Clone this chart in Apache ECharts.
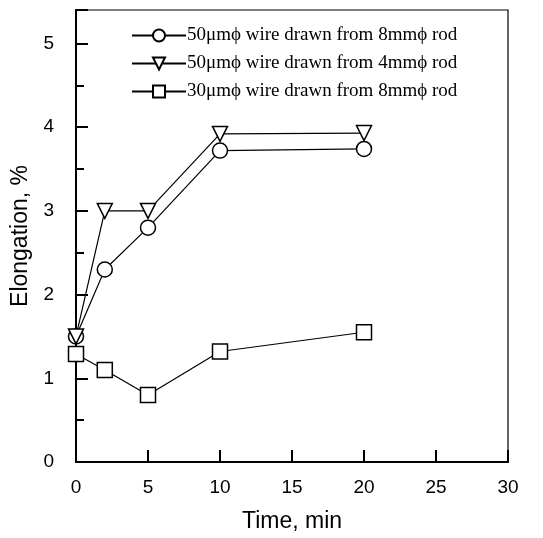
<!DOCTYPE html>
<html>
<head>
<meta charset="utf-8">
<script src="https://cdn.jsdelivr.net/npm/echarts@6/dist/echarts.min.js"></script>
<style>
  html, body { margin: 0; padding: 0; background: #fff; }
  #chart { width: 543px; height: 538px; }
</style>
</head>
<body>
<div id="chart"></div>
<script>
// time, min
var times = [0, 2, 5, 10, 20];
// elongation, %
var wire50from8 = [1.5, 2.3, 2.8, 3.72, 3.74];
var wire50from4 = [1.5, 3.0, 3.0, 3.92, 3.93];
var wire30from8 = [1.29, 1.1, 0.8, 1.32, 1.55];
var seriesNames = [
  "50\u03bcm\u03d5 wire drawn from 8mm\u03d5 rod",
  "50\u03bcm\u03d5 wire drawn from 4mm\u03d5 rod",
  "30\u03bcm\u03d5 wire drawn from 8mm\u03d5 rod"
];

function pairs(ys) {
  return times.map(function (t, i) { return [t, ys[i]]; });
}

function lineSeries(name, ys, symbol, rotate) {
  return {
    name: name,
    type: "line",
    data: pairs(ys),
    symbol: symbol,
    symbolSize: 15,
    symbolRotate: rotate,
    showAllSymbol: true,
    lineStyle: { color: "#000", width: 1.2 },
    itemStyle: { color: "#fff", borderColor: "#000", borderWidth: 1.5 },
    emphasis: { disabled: true },
    z: 3
  };
}

var chart = echarts.init(document.getElementById("chart"));
chart.setOption({
  animation: false,
  grid: {
    left: 76, right: 35, top: 10, bottom: 76,
    show: true, borderColor: "#000", borderWidth: 1.2
  },
  legend: {
    orient: "vertical",
    left: 126, top: 21,
    itemWidth: 54, itemHeight: 15, itemGap: 9,
    textStyle: { fontFamily: "Liberation Serif", fontSize: 19, color: "#000", padding: [0, 0, 0, -4] },
    data: seriesNames
  },
  xAxis: {
    type: "value",
    min: 0, max: 30, interval: 5,
    name: "Time, min",
    nameLocation: "middle",
    nameGap: 48,
    nameTextStyle: { fontFamily: "Liberation Sans", fontSize: 23, color: "#000" },
    axisLine: { lineStyle: { color: "#000", width: 2 } },
    axisTick: { inside: true, length: 12, lineStyle: { color: "#000", width: 2 } },
    axisLabel: { margin: 16, fontFamily: "Liberation Sans", fontSize: 19, color: "#000" },
    splitLine: { show: false }
  },
  yAxis: {
    type: "value",
    min: 0, max: 5.4, interval: 1,
    name: "Elongation, %",
    nameLocation: "middle",
    nameGap: 44,
    nameTextStyle: { fontFamily: "Liberation Sans", fontSize: 23, color: "#000" },
    axisLine: { lineStyle: { color: "#000", width: 2 } },
    axisTick: { inside: true, length: 12, lineStyle: { color: "#000", width: 2 } },
    minorTick: { show: true, splitNumber: 2, length: 8, lineStyle: { color: "#000", width: 2 } },
    axisLabel: { margin: 22, fontFamily: "Liberation Sans", fontSize: 19, color: "#000", showMaxLabel: false },
    splitLine: { show: false }
  },
  series: [
    lineSeries(seriesNames[0], wire50from8, "circle", 0),
    lineSeries(seriesNames[1], wire50from4, "triangle", 180),
    lineSeries(seriesNames[2], wire30from8, "rect", 0)
  ]
});
</script>
</body>
</html>
